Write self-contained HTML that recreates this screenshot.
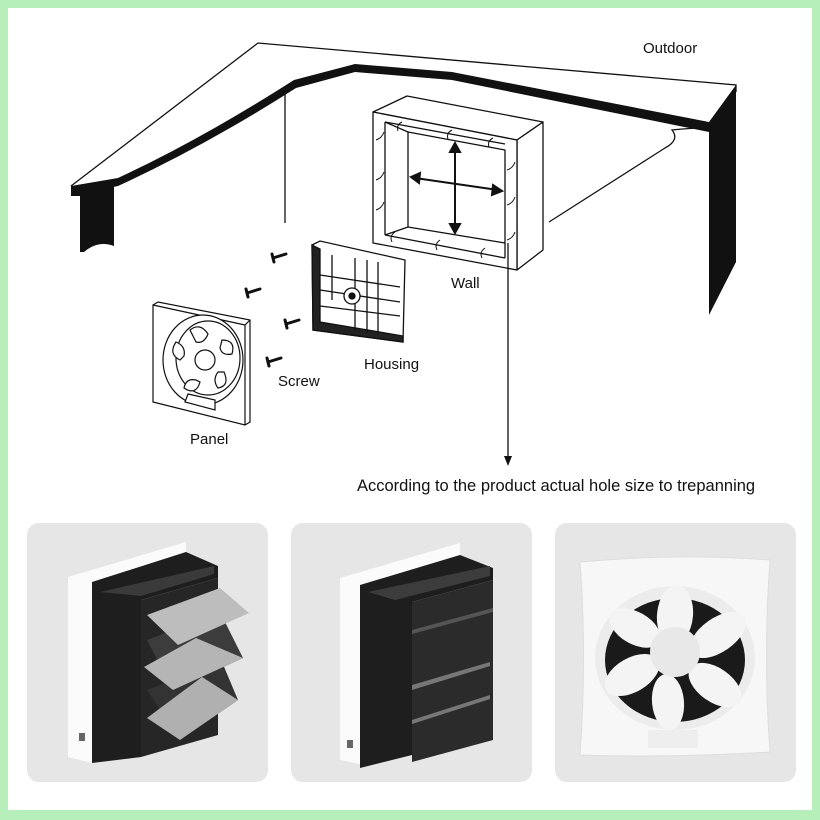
<!DOCTYPE html>
<html><head><meta charset="utf-8"><style>
html,body{margin:0;padding:0;background:#b7efba;}
svg{display:block;}
text{font-family:"Liberation Sans",sans-serif;fill:#111;}
</style></head><body>
<svg width="820" height="820" viewBox="0 0 820 820" xmlns="http://www.w3.org/2000/svg">
<rect x="0" y="0" width="820" height="820" fill="#b7efba"/>
<rect x="8" y="8" width="804" height="802" fill="#ffffff"/>

<g fill="none" stroke="#111" stroke-width="1.3">
<path d="M71,186 L258,43 L736,85 L736,92"/>
<path d="M285,93 L285,223"/>
<path d="M706,128 Q690,128 672,130 Q680,140 665,148 L549,222"/>
</g>
<path d="M71,186 L118,178 Q200,140 294,80 L355,64 L452,72 L709,122 L736,85 L736,95 L709,132 L452,80 L355,72 L296,88 Q205,146 118,186 L71,196 Z" fill="#111"/>
<path d="M71,192 L114,186 L114,246 Q98,240 84,252 L80,252 L80,196 L71,196 Z" fill="#111"/>
<path d="M709,128 L736,90 L736,262 L709,315 Z" fill="#111"/>

<g fill="#fff" stroke="#111" stroke-width="1.3" stroke-linejoin="round">
<path d="M373,112 L407,96 L543,122 L517,140 Z"/>
<path d="M517,140 L543,122 L543,250 L517,270 Z"/>
<path d="M373,112 L517,140 L517,270 L373,243 Z"/>
<path d="M408,132 L505,150 L505,243 L408,227 Z"/>
<path d="M385,122 L505,144 M385,122 L385,235 M385,235 L505,258" />
<path d="M408,227 L385,235 M505,243 L505,258 M408,132 L385,122"/>
</g>
<g fill="none" stroke="#111" stroke-width="1">
<path d="M402,122 q-6,3 -4,9 M452,130 q-6,3 -4,9 M493,138 q-6,3 -4,9"/>
<path d="M376,140 q6,-2 8,-8 M376,180 q6,-2 8,-8 M376,210 q6,-2 8,-8"/>
<path d="M507,170 q6,-2 8,-8 M507,205 q6,-2 8,-8 M507,240 q6,-2 8,-8"/>
<path d="M395,232 q-6,4 -3,10 M440,240 q-6,4 -3,10 M485,248 q-6,4 -3,10"/>
</g>
<g stroke="#111" stroke-width="2" fill="#111">
<line x1="455" y1="148" x2="455" y2="228"/>
<line x1="415" y1="178" x2="498" y2="190"/>
<path d="M455,143 L450,152 L460,152 Z"/>
<path d="M455,233 L450,224 L460,224 Z"/>
<path d="M411,177 L420,173 L419,183 Z"/>
<path d="M502,191 L493,185 L492,195 Z"/>
</g>
<line x1="508" y1="243" x2="508" y2="460" stroke="#111" stroke-width="1.3"/>
<path d="M508,466 L504,456 L512,456 Z" fill="#111"/>

<g fill="#fff" stroke="#111" stroke-width="1.3">
<path d="M312,245 L320,241 L405,260 L403,342 L313,330 Z"/>
<path d="M312,245 L313,330 L403,342 L403,336 L320,322 L320,249 Z" fill="#222"/>
<path d="M332,255 L332,300 M355,258 L355,330 M367,260 L367,333 M378,262 L378,334 M320,275 L400,287 M320,290 L400,302 M320,306 L400,316"/>
<circle cx="352" cy="296" r="8"/>
<circle cx="352" cy="296" r="3" fill="#111"/>
</g>
<g stroke="#111" stroke-width="3" stroke-linecap="round">
<line x1="273" y1="258" x2="286" y2="254"/><line x1="272" y1="254" x2="274" y2="262"/>
<line x1="247" y1="293" x2="260" y2="289"/><line x1="246" y1="289" x2="248" y2="297"/>
<line x1="286" y1="324" x2="299" y2="320"/><line x1="285" y1="320" x2="287" y2="328"/>
<line x1="268" y1="362" x2="281" y2="358"/><line x1="267" y1="358" x2="269" y2="366"/>
</g>
<g fill="#fff" stroke="#111" stroke-width="1.2">
<path d="M153,305 L158,302 L250,320 L250,422 L245,425 L153,402 Z"/>
<path d="M245,325 L250,320 M245,325 L245,425 M153,305 L245,325"/>
<ellipse cx="203" cy="360" rx="40" ry="45"/>
<ellipse cx="208" cy="358" rx="32" ry="37"/>
<path d="M190,330 q10,-8 18,4 q-4,10 -12,8 Z M222,340 q14,0 10,14 q-10,2 -12,-6 Z M224,372 q6,14 -6,16 q-6,-8 0,-16 Z M200,382 q-4,14 -16,6 q2,-10 12,-8 Z M180,360 q-12,-6 -4,-18 q10,4 8,14 Z"/>
<circle cx="205" cy="360" r="10"/>
<path d="M185,402 L188,394 L215,400 L215,410 Z"/>
</g>

<text x="643" y="53" font-size="15">Outdoor</text>
<text x="451" y="288" font-size="15">Wall</text>
<text x="364" y="369" font-size="15">Housing</text>
<text x="278" y="386" font-size="15">Screw</text>
<text x="190" y="444" font-size="15">Panel</text>
<text x="357" y="491" font-size="16.5">According to the product actual hole size to trepanning</text>

<rect x="27" y="523" width="241" height="259" rx="12" fill="#e6e6e6"/>
<rect x="291" y="523" width="241" height="259" rx="12" fill="#e6e6e6"/>
<rect x="555" y="523" width="241" height="259" rx="12" fill="#e6e6e6"/>

<!-- card1 -->
<path d="M68,577 L186,542 L186,552 L92,582 L92,763 L68,757 Z" fill="#fbfbfb"/>
<path d="M92,582 L186,552 L218,566 L218,578 L141,600 L141,757 L92,763 Z" fill="#1e1e1e"/>
<path d="M141,600 L218,578 L218,735 L141,757 Z" fill="#262626"/>
<path d="M100,592 L214,566 L214,574 L141,596 Z" fill="#3a3a3a"/>
<path d="M147,640 L220,612 L243,658 L173,690 Z" fill="#3c3c3c"/>
<path d="M147,690 L222,662 L238,700 L180,740 Z" fill="#333"/>
<path d="M147,615 L220,588 L249,613 L178,645 Z" fill="#bdbdbd"/>
<path d="M144,667 L196,638 L243,658 L173,690 Z" fill="#b5b5b5"/>
<path d="M147,718 L202,677 L238,700 L180,740 Z" fill="#b0b0b0"/>
<rect x="79" y="733" width="6" height="8" fill="#666"/>

<!-- card2 -->
<path d="M340,578 L460,543 L460,555 L360,585 L360,764 L340,760 Z" fill="#fbfbfb"/>
<path d="M360,585 L460,555 L493,568 L493,580 L412,602 L412,755 L360,768 Z" fill="#1e1e1e"/>
<path d="M412,602 L493,580 L493,740 L412,762 Z" fill="#2b2b2b"/>
<path d="M368,592 L490,566 L490,576 L395,600 Z" fill="#3c3c3c"/>
<path d="M412,630 L493,608 L493,612 L412,634 Z" fill="#555"/>
<path d="M412,685 L490,662 L490,666 L412,690 Z" fill="#777"/>
<path d="M412,720 L490,695 L490,699 L412,724 Z" fill="#777"/>
<rect x="347" y="740" width="6" height="8" fill="#666"/>

<!-- card3 fan -->
<path d="M580,562 Q675,553 770,560 Q763,657 770,752 Q675,758 580,755 Q587,657 580,562 Z" fill="#f7f7f7" stroke="#ddd"/>
<ellipse cx="675" cy="658" rx="80" ry="72" fill="#ececec"/>
<ellipse cx="675" cy="660" rx="70" ry="62" fill="#1a1a1a"/>
<g fill="#f4f4f4">
<ellipse cx="675" cy="615" rx="18" ry="30" transform="rotate(5 675 615)"/>
<ellipse cx="718" cy="635" rx="17" ry="32" transform="rotate(55 718 635)"/>
<ellipse cx="715" cy="685" rx="17" ry="30" transform="rotate(125 715 685)"/>
<ellipse cx="668" cy="702" rx="16" ry="28" transform="rotate(175 668 702)"/>
<ellipse cx="632" cy="675" rx="17" ry="30" transform="rotate(240 632 675)"/>
<ellipse cx="635" cy="628" rx="16" ry="28" transform="rotate(300 635 628)"/>
</g>
<ellipse cx="675" cy="652" rx="25" ry="25" fill="#e8e8e8"/>
<rect x="648" y="730" width="50" height="18" fill="#eee"/>
</svg>
</body></html>
